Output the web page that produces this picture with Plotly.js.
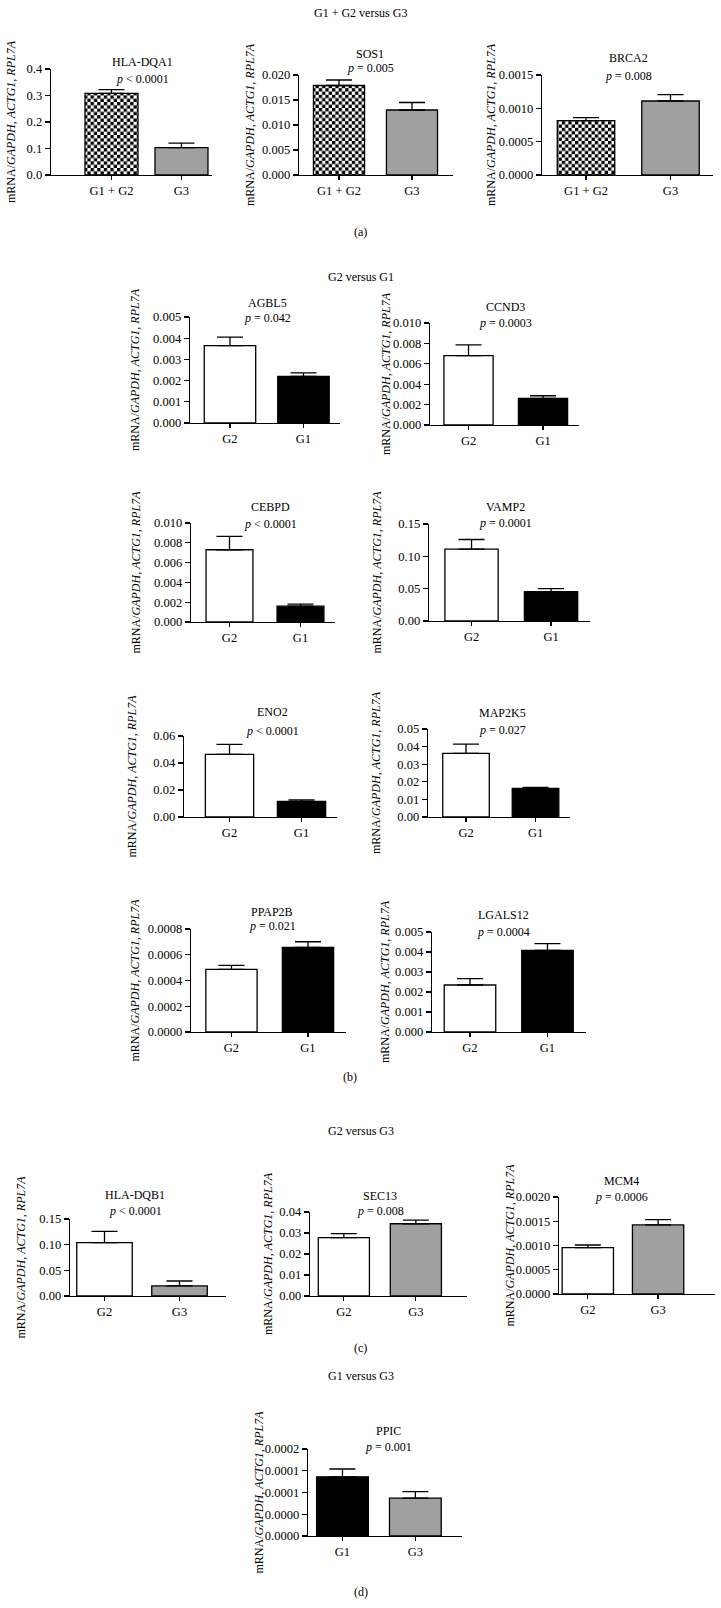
<!DOCTYPE html>
<html><head><meta charset="utf-8">
<script src="https://cdn.plot.ly/plotly-3.0.1.min.js"></script>
<style>html,body{margin:0;padding:0;background:#fff}#chart{width:721px;height:1608px}</style>
</head><body><div id="chart"></div>
<script>
// ---------------- data ----------------
const genes = ['HLA-DQA1','SOS1','BRCA2','AGBL5','CCND3','CEBPD','VAMP2','ENO2','MAP2K5','PPAP2B','LGALS12','HLA-DQB1','SEC13','MCM4','PPIC'];
const pValues = ['< 0.0001','= 0.005','= 0.008','= 0.042','= 0.0003','< 0.0001','= 0.0001','< 0.0001','= 0.027','= 0.021','= 0.0004','< 0.0001','= 0.008','= 0.0006','= 0.001'];
const groupsA = ['G1 + G2','G3'];
const groupsB = ['G2','G1'];
const groupsC = ['G2','G3'];
const groupsD = ['G1','G3'];
const groups = [groupsA,groupsA,groupsA,groupsB,groupsB,groupsB,groupsB,groupsB,groupsB,groupsB,groupsB,groupsC,groupsC,groupsC,groupsD];
const means = [
  [0.308, 0.103], [0.0179, 0.013], [0.000815, 0.00111],
  [0.00365, 0.0022], [0.0068, 0.0026],
  [0.0073, 0.0016], [0.111, 0.0454],
  [0.0464, 0.0115], [0.0361, 0.0162],
  [0.000487, 0.000657], [0.00235, 0.00408],
  [0.104, 0.0197], [0.0278, 0.0344], [0.000956, 0.001424],
  [0.000136, 0.000087]
];
const semUp = [
  [0.014, 0.017], [0.0011, 0.0015], [0.000045, 0.000095],
  [0.0004, 0.00016], [0.00105, 0.00027],
  [0.00135, 0.0002], [0.015, 0.0046],
  [0.0074, 0.0012], [0.0053, 0.0006],
  [0.00003, 0.000044], [0.00032, 0.00034],
  [0.022, 0.0095], [0.0019, 0.0017], [0.000054, 0.000108],
  [0.000018, 0.000015]
];
const yMax  = [0.4, 0.02, 0.0015, 0.005, 0.01, 0.01, 0.15, 0.06, 0.05, 0.0008, 0.005, 0.15, 0.04, 0.002, 0.0002];
const yStep = [0.1, 0.005, 0.0005, 0.001, 0.002, 0.002, 0.05, 0.02, 0.01, 0.0002, 0.001, 0.05, 0.01, 0.0005, 0.00005];
const yDecimals = [1, 3, 4, 3, 3, 3, 2, 2, 2, 4, 3, 2, 2, 4, 4];
const ppicTickText = ['0.0000','0.0000','0.0001','0.0001','0.0002'];
const sectionTitles = ['G1 + G2 versus G3','G2 versus G1','G2 versus G3','G1 versus G3'];
const panelLabels = ['(a)','(b)','(c)','(d)'];
const yTitle = 'mRNA/<i>GAPDH</i>, <i>ACTG1</i>, <i>RPL7A</i>';

// ---------------- layout (pixels) ----------------
const W = 721, H = 1608;
// [axisLeft, axisRight, axisTop, axisBottom, xLo, xHi, barWidth, yLabelX, geneX, geneY, pY]
const boxes = [
  [51,212,69,175,-0.864,1.436,0.757, 11, 142,62,79],
  [299,453,75,175,-0.548,1.562,0.70, 250, 370,54,68],
  [542,713,75,175,-0.521,1.503,0.68, 491, 628,58,76],
  [190,340,317,423,-0.544,1.497,0.70, 135, 267,303,318],
  [430,579,323,425,-0.517,1.483,0.66, 386, 505,307,323],
  [191,335,523,622,-0.542,1.486,0.66, 135, 270,507,524],
  [429,590,524,621,-0.535,1.49,0.67, 376, 505,507,523],
  [184,337,736,817,-0.632,1.493,0.67, 132, 272,712,731],
  [428,570,729,817,-0.547,1.496,0.67, 376, 502,713,730],
  [191,346,929,1032,-0.529,1.497,0.67, 135, 272,912,926],
  [432,586,932,1032,-0.49,1.497,0.665, 385, 503,915,932],
  [70,226,1219,1296,-0.46,1.62,0.74, 20, 135,1195,1211],
  [310,467,1212,1296,-0.47,1.71,0.71, 268, 380,1196,1211],
  [559,715,1197,1294,-0.41,1.81,0.73, 509, 621,1181,1197],
  [308,462,1449,1536,-0.473,1.64,0.71, 258, 388,1431,1447]
];
const sectionY = [13, 277, 1131, 1376];
const labelY = [232, 1077, 1348, 1592];

const fillOf = {'G1 + G2':'#ffffff','G3':'#a0a0a0','G2':'#ffffff','G1':'#000000'};
const FONT = 'Liberation Serif, Times New Roman, serif';
const px = v => v / W;
const py = v => 1 - v / H;

const traces = [];
const layout = {
  width: W, height: H, margin: {l:0,r:0,t:0,b:0},
  paper_bgcolor: '#fff', plot_bgcolor: 'rgba(0,0,0,0)',
  showlegend: false, bargap: 0,
  font: {family: FONT, size: 12.5, color: '#000'},
  annotations: []
};

genes.forEach((g, i) => {
  const b = boxes[i];
  const n = i === 0 ? '' : String(i + 1);
  const xa = 'x' + n, ya = 'y' + n;
  traces.push({
    type: 'bar', x: groups[i], y: means[i], xaxis: xa, yaxis: ya,
    width: [b[6], b[6]],
    marker: {
      color: groups[i].map(c => fillOf[c]),
      line: {color: '#000', width: 1.3},
      pattern: {shape: groups[i].map(c => c === 'G1 + G2' ? '+' : ''), fgcolor: '#000', bgcolor: '#fff', size: 6.6, solidity: 0.5}
    },
    error_y: {type: 'data', symmetric: false, array: semUp[i], arrayminus: [0, 0], color: '#000', thickness: 1.3, width: 13},
    hoverinfo: 'none'
  });
  const tv = [];
  const nt = Math.round(yMax[i] / yStep[i]);
  for (let k = 0; k <= nt; k++) tv.push(k * yStep[i]);
  const tt = g === 'PPIC' ? ppicTickText : tv.map(v => v.toFixed(yDecimals[i]));
  layout['xaxis' + n] = {
    domain: [px(b[0]), px(b[1])], anchor: ya, type: 'category', range: [b[4], b[5]],
    showline: true, linecolor: '#000', linewidth: 1.3, ticks: 'outside', ticklen: 4, tickwidth: 1.2, tickcolor: '#000',
    showgrid: false, zeroline: false, fixedrange: true, tickfont: {family: FONT, size: 12.5, color: '#000'}
  };
  layout['yaxis' + n] = {
    domain: [py(b[3]), py(b[2])], anchor: xa, range: [0, yMax[i]],
    tickmode: 'array', tickvals: tv, ticktext: tt,
    showline: true, linecolor: '#000', linewidth: 1.3, ticks: 'outside', ticklen: 5, tickwidth: 1.2, tickcolor: '#000',
    showgrid: false, zeroline: false, fixedrange: true, tickfont: {family: FONT, size: 12.5, color: '#000'}
  };
  layout.annotations.push(
    {xref:'paper', yref:'paper', x: px(b[8]), y: py(b[9]), text: g, showarrow: false, xanchor:'center', yanchor:'middle', font:{family:FONT,size:12,color:'#000'}},
    {xref:'paper', yref:'paper', x: px(b[8]), y: py(b[10]), text: '<i>p</i> ' + pValues[i], showarrow: false, xanchor:'center', yanchor:'middle', font:{family:FONT,size:12,color:'#000'}},
    {xref:'paper', yref:'paper', x: px(b[7]), y: py((b[2] + b[3]) / 2), text: yTitle, textangle: -90, showarrow: false, xanchor:'center', yanchor:'middle', font:{family:FONT,size:12,color:'#000'}}
  );
});

sectionTitles.forEach((t, k) => {
  layout.annotations.push({xref:'paper', yref:'paper', x: 0.5, y: py(sectionY[k]), text: t, showarrow:false, xanchor:'center', yanchor:'middle', font:{family:FONT,size:12,color:'#000'}});
  layout.annotations.push({xref:'paper', yref:'paper', x: k === 1 ? px(350) : 0.5, y: py(labelY[k]), text: panelLabels[k], showarrow:false, xanchor:'center', yanchor:'middle', font:{family:FONT,size:12,color:'#000'}});
});

Plotly.newPlot('chart', traces, layout, {staticPlot: true, displayModeBar: false}).then(gd => {
  // turn the '+' pattern into a checkerboard fill
  const NS = 'http://www.w3.org/2000/svg';
  const s = 3.3;
  gd.querySelectorAll('pattern').forEach(p => {
    p.setAttribute('width', 2 * s); p.setAttribute('height', 2 * s);
    while (p.firstChild) p.removeChild(p.firstChild);
    const mk = (x, y, w, h, c) => { const r = document.createElementNS(NS, 'rect'); r.setAttribute('x', x); r.setAttribute('y', y); r.setAttribute('width', w); r.setAttribute('height', h); r.setAttribute('fill', c); p.appendChild(r); };
    mk(0, 0, 2 * s, 2 * s, '#fff'); mk(0, 0, s, s, '#000'); mk(s, s, s, s, '#000');
  });
});
</script></body></html>
